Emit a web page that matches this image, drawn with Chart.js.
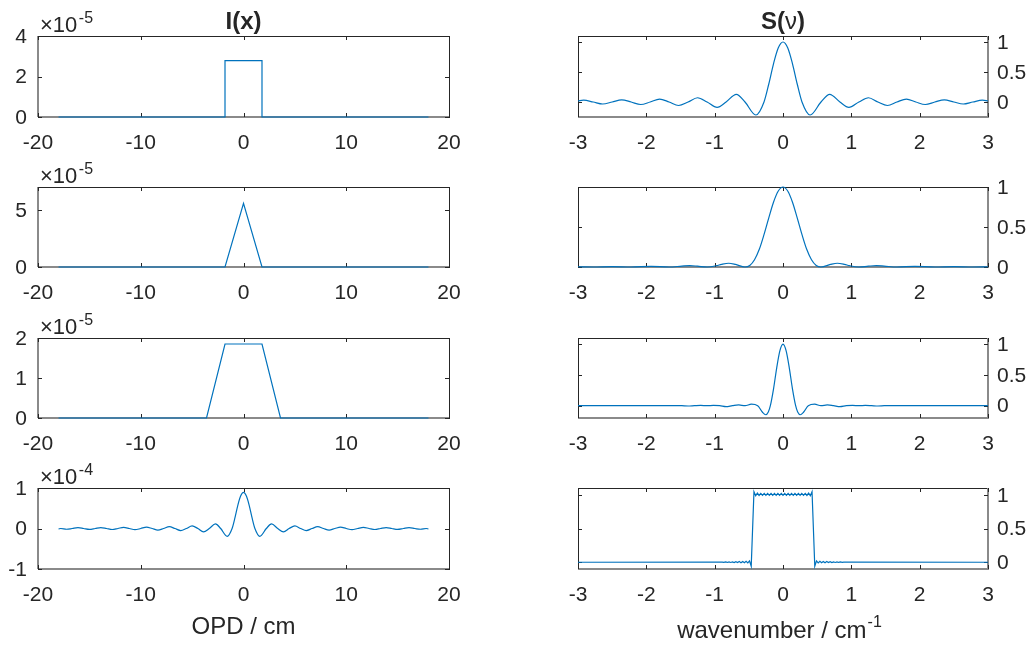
<!DOCTYPE html>
<html>
<head>
<meta charset="utf-8">
<script src="https://cdn.jsdelivr.net/npm/chart.js@4.4.1/dist/chart.umd.min.js"></script>
<style>
  body { margin: 0; background: #fff; width: 1030px; height: 646px; position: relative; overflow: hidden; }
  canvas { position: absolute; }
</style>
</head>
<body>
<script>
// interferograms I(x), optical path difference in cm
const opdTicks = [-20, -10, 0, 10, 20];

const boxX = [-18, -1.8, -1.8, 1.8, 1.8, 18];
const boxI = [0, 0, 2.78, 2.78, 0, 0];              // x1e-5

const triX = [-18, -1.8, 0, 1.8, 18];
const triI = [0, 0, 5.56, 0, 0];                    // x1e-5

const trapX = [-18, -3.6, -1.8, 1.8, 3.6, 18];
const trapI = [0, 0, 1.85, 1.85, 0, 0];             // x1e-5

const sincX = [-18, -17.78, -17.22, -16.67, -16.11, -15.56, -15.0, -14.44, -13.89, -13.33,
  -12.78, -12.22, -11.67, -11.11, -10.56, -10.0, -9.44, -8.89, -8.33, -7.78,
  -7.22, -6.67, -6.11, -5.56, -5.0, -4.44, -3.89, -3.33, -2.73, -2.22,
  -1.59, -1.11, -0.83, -0.56, -0.28, 0, 0.28, 0.56, 0.83, 1.11,
  1.59, 2.22, 2.73, 3.33, 3.89, 4.44, 5.0, 5.56, 6.11, 6.67,
  7.22, 7.78, 8.33, 8.89, 9.44, 10.0, 10.56, 11.11, 11.67, 12.22,
  12.78, 13.33, 13.89, 14.44, 15.0, 15.56, 16.11, 16.67, 17.22, 17.78, 18];
const sincI = [-0.012, 0, -0.018, 0, 0.020, 0, -0.021, 0, 0.023, 0,
  -0.025, 0, 0.027, 0, -0.030, 0, 0.034, 0, -0.038, 0,
  0.044, 0, -0.052, 0, 0.063, 0, -0.081, 0, 0.113, 0,
  -0.193, 0, 0.267, 0.567, 0.80, 0.89, 0.80, 0.567, 0.267, 0,
  -0.193, 0, 0.113, 0, -0.081, 0, 0.063, 0, -0.052, 0,
  0.044, 0, -0.038, 0, 0.034, 0, -0.030, 0, 0.027, 0,
  -0.025, 0, 0.023, 0, -0.021, 0, 0.020, 0, -0.018, 0, -0.012];   // x1e-4

// spectra S(v), wavenumber in 1/cm
const waveTicks = [-3, -2, -1, 0, 1, 2, 3];

const s1V = [-3.0, -2.917, -2.778, -2.639, -2.5, -2.361, -2.222, -2.083, -1.944, -1.806,
  -1.667, -1.528, -1.389, -1.25, -1.111, -0.964, -0.833, -0.683, -0.556, -0.397,
  -0.278, -0.208, -0.139, -0.07, 0, 0.07, 0.139, 0.208, 0.278, 0.397,
  0.556, 0.683, 0.833, 0.964, 1.111, 1.25, 1.389, 1.528, 1.667, 1.806,
  1.944, 2.083, 2.222, 2.361, 2.5, 2.639, 2.778, 2.917, 3.0];
const s1S = [0.017, 0.030, 0, -0.033, 0, 0.037, 0, -0.042, 0, 0.049,
  0, -0.058, 0, 0.071, 0, -0.091, 0, 0.128, 0, -0.217,
  0, 0.30, 0.637, 0.90, 1, 0.90, 0.637, 0.30, 0, -0.217,
  0, 0.128, 0, -0.091, 0, 0.071, 0, -0.058, 0, 0.049,
  0, -0.042, 0, 0.037, 0, -0.033, 0, 0.030, 0.017];

const s2V = [-3.0, -2.778, -2.5, -2.222, -1.93, -1.667, -1.48, -1.366, -1.25, -1.111,
  -0.972, -0.90, -0.795, -0.694, -0.556, -0.486, -0.417, -0.347, -0.278, -0.208,
  -0.139, -0.069, 0, 0.069, 0.139, 0.208, 0.278, 0.347, 0.417, 0.486,
  0.556, 0.694, 0.795, 0.90, 0.972, 1.111, 1.25, 1.366, 1.48, 1.667,
  1.93, 2.222, 2.5, 2.778, 3.0];
const s2S = [0.003, 0, 0.005, 0, 0.008, 0, 0.011, 0.0165, 0.010, 0,
  0.0165, 0.033, 0.047, 0.032, 0, 0.019, 0.090, 0.221, 0.405, 0.615,
  0.81, 0.95, 1, 0.95, 0.81, 0.615, 0.405, 0.221, 0.090, 0.019,
  0, 0.032, 0.047, 0.033, 0.0165, 0, 0.010, 0.0165, 0.011, 0,
  0.008, 0, 0.005, 0, 0.003];

const s3V = [-3.0, -1.667, -1.574, -1.481, -1.389, -1.296, -1.204, -1.111, -1.019, -0.926,
  -0.833, -0.741, -0.648, -0.556, -0.463, -0.37, -0.30, -0.252, -0.215, -0.185,
  -0.139, -0.093, -0.046, 0, 0.046, 0.093, 0.139, 0.185, 0.215, 0.252,
  0.30, 0.37, 0.463, 0.556, 0.648, 0.741, 0.833, 0.926, 1.019, 1.111,
  1.204, 1.296, 1.389, 1.481, 1.574, 1.667, 3.0];
const s3S = [0, 0, 0.002, 0, -0.005, 0, 0.004, 0, 0.005, 0,
  -0.015, 0, 0.012, 0, 0.024, 0, -0.107, -0.147, -0.103, 0,
  0.27, 0.608, 0.89, 1, 0.89, 0.608, 0.27, 0, -0.103, -0.147,
  -0.107, 0, 0.024, 0, 0.012, 0, -0.015, 0, 0.005, 0,
  0.004, 0, -0.005, 0, 0.002, 0, 0];

const s4V = [-3.0, -0.89, -0.865, -0.84, -0.815, -0.79, -0.765, -0.74, -0.715, -0.69,
  -0.665, -0.64, -0.615, -0.59, -0.565, -0.54, -0.515, -0.49, -0.465,
  -0.425, -0.4, -0.375, -0.35, -0.325, -0.3, -0.275, -0.25, -0.225, -0.2,
  -0.175, -0.15, -0.125, -0.1, -0.075, -0.05, -0.025, 0, 0.025, 0.05,
  0.075, 0.1, 0.125, 0.15, 0.175, 0.2, 0.225, 0.25, 0.275, 0.3,
  0.325, 0.35, 0.375, 0.4, 0.425,
  0.465, 0.49, 0.515, 0.54, 0.565, 0.59, 0.615, 0.64, 0.665, 0.69,
  0.715, 0.74, 0.765, 0.79, 0.815, 0.84, 0.865, 0.89, 3.0];
const s4S = [0, 0.003, -0.002, 0.004, -0.003, 0.005, -0.003, 0.006, -0.004, 0.008,
  -0.005, 0.010, -0.006, 0.012, -0.008, 0.015, -0.010, 0.020, -0.060,
  1.045, 0.985, 1.025, 0.99, 1.02, 0.99, 1.02, 0.99, 1.02, 0.99,
  1.02, 0.99, 1.02, 0.99, 1.02, 0.99, 1.02, 0.99, 1.02, 0.99,
  1.02, 0.99, 1.02, 0.99, 1.02, 0.99, 1.02, 0.99, 1.02, 0.99,
  1.02, 0.99, 1.025, 0.985, 1.045,
  -0.060, 0.020, -0.010, 0.015, -0.008, 0.012, -0.006, 0.010, -0.005, 0.008,
  -0.004, 0.006, -0.003, 0.005, -0.003, 0.004, -0.002, 0.003, 0];

const FONT = '"Liberation Sans", Arial, Helvetica, sans-serif';
const INK = '#262626';
const BLUE = '#0072BD';

const rowTop = [36, 187, 338, 488];
const rowBot = [117, 267, 418, 569];

const panels = [
  { col: 0, row: 0, xs: boxX, ys: boxI, y: [0, 4], yt: [0, 2, 4], exp: '-5', title: 'I' },
  { col: 0, row: 1, xs: triX, ys: triI, y: [0, 7], yt: [0, 5], exp: '-5' },
  { col: 0, row: 2, xs: trapX, ys: trapI, y: [0, 2], yt: [0, 1, 2], exp: '-5' },
  { col: 0, row: 3, xs: sincX, ys: sincI, y: [-1, 1], yt: [-1, 0, 1], exp: '-4', smooth: true, xlabel: true },
  { col: 1, row: 0, xs: s1V, ys: s1S, y: [-0.25, 1.1], yt: [0, 0.5, 1], smooth: true, title: 'S' },
  { col: 1, row: 1, xs: s2V, ys: s2S, y: [0, 1], yt: [0, 0.5, 1], smooth: true },
  { col: 1, row: 2, xs: s3V, ys: s3S, y: [-0.2, 1.1], yt: [0, 0.5, 1], smooth: true },
  { col: 1, row: 3, xs: s4V, ys: s4S, y: [-0.1, 1.1], yt: [0, 0.5, 1], xlabel: true }
];

// box, inward ticks, titles and the exponent/axis labels
const frame = {
  id: 'frame',
  beforeDatasetsDraw(chart, args, o) {
    const { ctx, chartArea: a, scales: { x, y } } = chart;
    ctx.save();
    ctx.fillStyle = INK;
    ctx.fillRect(a.left, a.top, a.right - a.left, 1);
    ctx.fillStyle = '#8a8a8a';
    ctx.fillRect(a.left, a.bottom - 1, a.right - a.left + 1, 2);
    if (o.right) {
      ctx.fillRect(a.right - 1, a.top, 2, a.bottom - a.top);
      ctx.fillStyle = INK;
      ctx.fillRect(a.left, a.top, 1, a.bottom - a.top);
    } else {
      ctx.fillRect(a.left - 1, a.top, 2, a.bottom - a.top);
      ctx.fillStyle = INK;
      ctx.fillRect(a.right, a.top, 1, a.bottom - a.top + 1);
    }
    ctx.fillStyle = INK;
    x.ticks.forEach(t => {
      const px = Math.round(x.getPixelForValue(t.value));
      ctx.fillRect(px, a.top, 1, 4);
      ctx.fillRect(px, a.bottom - 4, 1, 4);
    });
    y.ticks.forEach(t => {
      const py = Math.round(y.getPixelForValue(t.value));
      ctx.fillRect(a.left, py, 4, 1);
      ctx.fillRect(a.right - 4, py, 4, 1);
    });
    ctx.restore();
  },
  afterDraw(chart, args, o) {
    const { ctx, chartArea: a } = chart;
    const cx = (a.left + a.right) / 2;
    ctx.save();
    ctx.fillStyle = INK;
    ctx.textBaseline = 'alphabetic';
    if (o.title === 'I') {
      ctx.font = 'bold 24px ' + FONT;
      ctx.textAlign = 'center';
      ctx.fillText('I(x)', cx, a.top - 7.5);
    } else if (o.title === 'S') {
      const parts = [['S(', 'bold 24px '], ['\u03bd', '24px '], [')', 'bold 24px ']];
      let w = 0;
      parts.forEach(p => { ctx.font = p[1] + FONT; w += ctx.measureText(p[0]).width; });
      let px = cx - w / 2;
      ctx.textAlign = 'left';
      parts.forEach(p => { ctx.font = p[1] + FONT; ctx.fillText(p[0], px, a.top - 7.5); px += ctx.measureText(p[0]).width; });
    }
    if (o.exp) {
      ctx.textAlign = 'left';
      ctx.font = '22px ' + FONT;
      ctx.fillText('\u00d710', a.left + 2, a.top - 4.5);
      const w = ctx.measureText('\u00d710').width;
      ctx.font = '16px ' + FONT;
      ctx.fillText(o.exp, a.left + 2 + w + 1.5, a.top - 13);
    }
    if (o.xlabel === 'opd') {
      ctx.font = '24px ' + FONT;
      ctx.textAlign = 'center';
      ctx.fillText('OPD / cm', cx, a.bottom + 64.5);
    } else if (o.xlabel === 'wave') {
      ctx.font = '24px ' + FONT;
      const main = 'wavenumber / cm';
      const w1 = ctx.measureText(main).width;
      ctx.font = '16px ' + FONT;
      const w2 = ctx.measureText('-1').width;
      const x0 = cx - 4 - (w1 + w2) / 2;
      ctx.textAlign = 'left';
      ctx.font = '24px ' + FONT;
      ctx.fillText(main, x0, a.bottom + 69);
      ctx.font = '16px ' + FONT;
      ctx.fillText('-1', x0 + w1 + 1, a.bottom + 58);
    }
    ctx.restore();
  }
};

function makePanel(p) {
  const right = p.col === 1;
  const x0 = right ? 530 : 0;
  const W = right ? 500 : 480;
  const top = rowTop[p.row], plotH = rowBot[p.row] - rowTop[p.row];
  const y0 = top - 36;
  const H = p.row === 3 ? 646 - y0 : 36 + plotH + 40;
  const cv = document.createElement('canvas');
  cv.width = W; cv.height = H;
  cv.style.left = x0 + 'px'; cv.style.top = y0 + 'px';
  document.body.appendChild(cv);

  const xt = right ? waveTicks : opdTicks;
  const tickFont = { family: FONT, size: 21 };
  new Chart(cv, {
    type: 'line',
    data: {
      datasets: [{
        data: p.xs.map((v, i) => ({ x: v, y: p.ys[i] })),
        borderColor: BLUE,
        borderWidth: 1.2,
        pointRadius: 0,
        fill: false,
        tension: 0,
        cubicInterpolationMode: p.smooth ? 'monotone' : 'default',
        clip: 3
      }]
    },
    options: {
      responsive: false,
      animation: false,
      devicePixelRatio: 1,
      events: [],
      layout: { padding: { left: right ? 48 : 0, right: right ? 2 : 31, top: 36, bottom: H - 36 - plotH - 40 } },
      plugins: {
        legend: { display: false },
        tooltip: { enabled: false },
        frame: {
          right: right,
          title: p.title,
          exp: p.exp,
          xlabel: p.xlabel ? (right ? 'wave' : 'opd') : null
        }
      },
      scales: {
        x: {
          type: 'linear',
          min: xt[0], max: xt[xt.length - 1],
          afterBuildTicks: s => { s.ticks = xt.map(v => ({ value: v })); },
          afterFit: s => { s.height = 40; },
          grid: { display: false, drawTicks: false },
          border: { display: false },
          ticks: { font: tickFont, color: INK, padding: 14, maxRotation: 0, autoSkip: false, callback: v => String(v) }
        },
        y: {
          type: 'linear',
          position: right ? 'right' : 'left',
          min: p.y[0], max: p.y[1],
          afterBuildTicks: s => { s.ticks = p.yt.map(v => ({ value: v })); },
          afterFit: s => { s.width = right ? 40 : 38; },
          grid: { display: false, drawTicks: false },
          border: { display: false },
          ticks: { font: tickFont, color: INK, padding: right ? 9 : 11, labelOffset: 1, autoSkip: false, callback: v => String(v) }
        }
      }
    },
    plugins: [frame]
  });
}

panels.forEach(makePanel);
</script>
</body>
</html>
